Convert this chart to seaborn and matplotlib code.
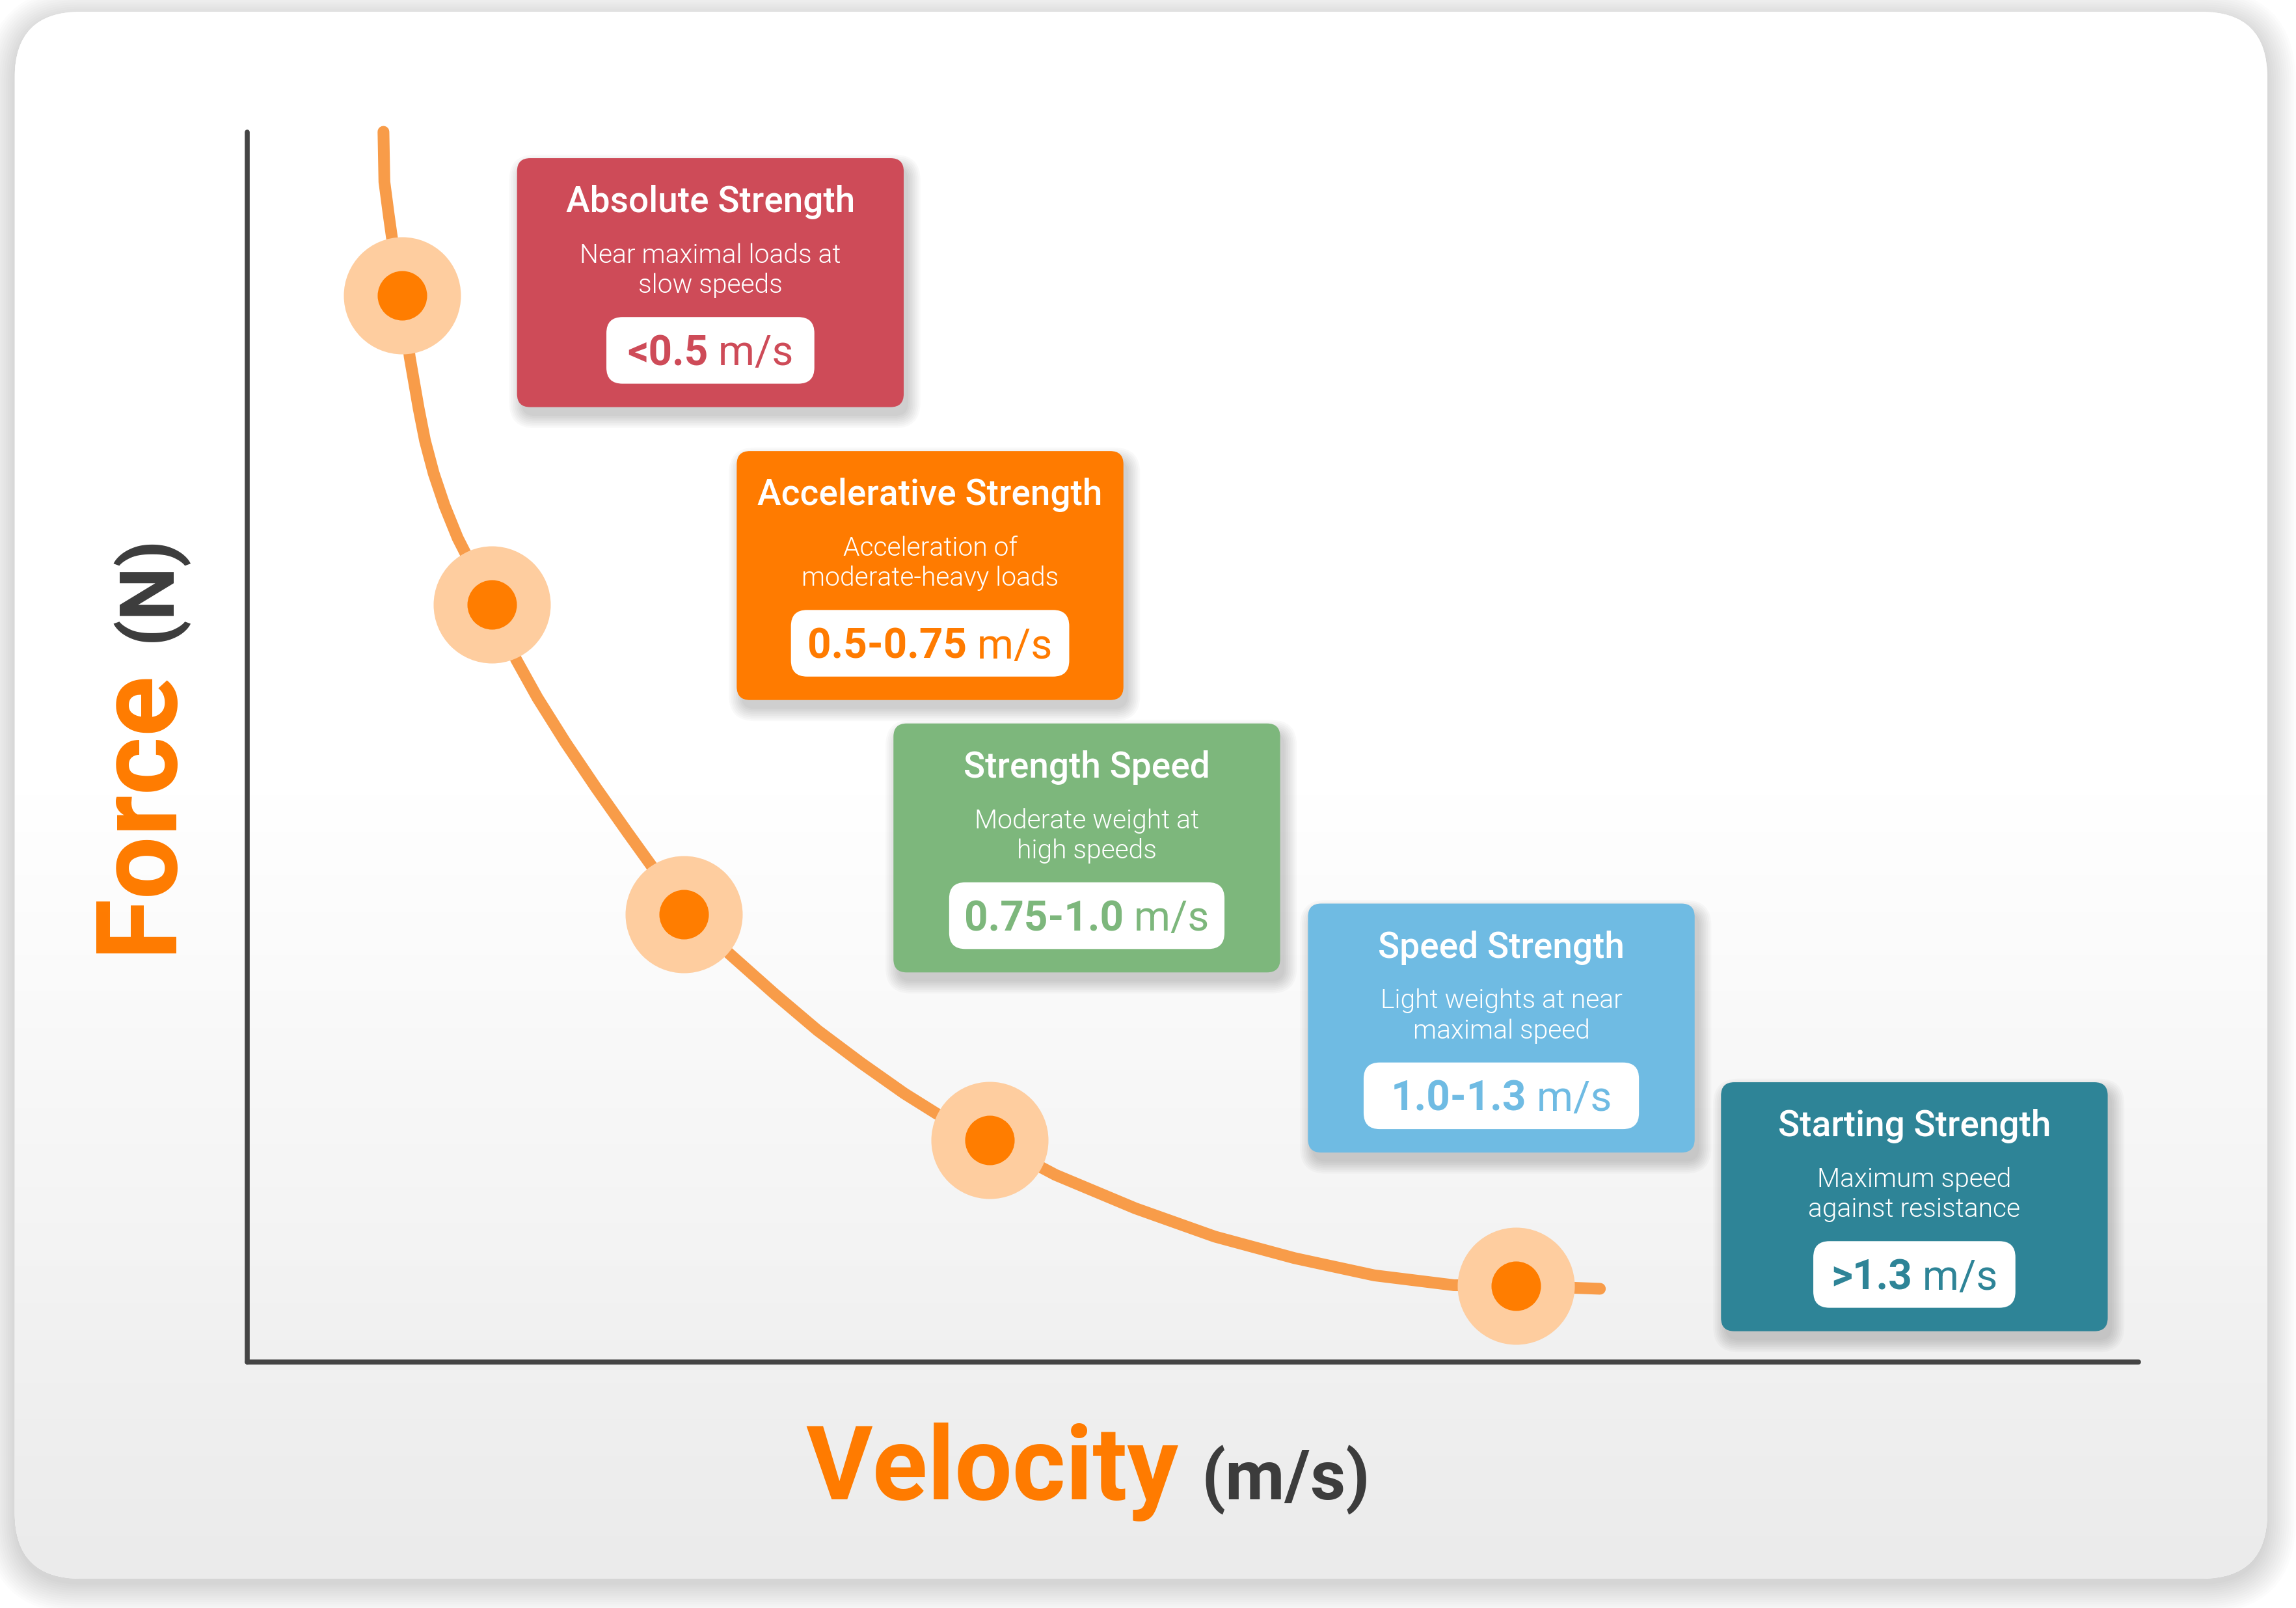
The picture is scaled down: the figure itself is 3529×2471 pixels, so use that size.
import numpy as np
import matplotlib
matplotlib.use("Agg")
import matplotlib.pyplot as plt
import seaborn as sns
from matplotlib.patches import FancyBboxPatch
from matplotlib.colors import LinearSegmentedColormap

# force-velocity curve (velocity in m/s, force in % of max)
velocity = [0.1150, 0.1158, 0.1194, 0.1221, 0.1309, 0.1372, 0.1448, 0.1502,
            0.1575, 0.1667, 0.1778, 0.2065, 0.2273, 0.2453, 0.2691, 0.2948,
            0.3214, 0.3419, 0.3690, 0.4065, 0.4457, 0.4824, 0.5191, 0.5557,
            0.5833, 0.6279, 0.6836, 0.7512, 0.8185, 0.8859, 0.9534, 1.0208,
            1.0731, 1.1443]
force = [100.0, 95.93, 93.30, 91.45, 86.71, 81.71, 77.51, 74.88,
         72.24, 69.61, 66.98, 61.57, 57.10, 53.99, 50.35, 46.69,
         43.06, 40.32, 36.37, 33.29, 29.94, 26.95, 24.31, 21.83,
         20.17, 18.04, 15.21, 12.49, 10.19, 8.44, 7.04, 6.24,
         6.20, 5.95]

# one marker per training zone
zone_velocity = [0.1309, 0.2065, 0.3690, 0.6279, 1.0731]
zone_force = [86.71, 61.57, 36.37, 18.04, 6.20]

zone_titles = ["Absolute Strength", "Accelerative Strength", "Strength Speed",
               "Speed Strength", "Starting Strength"]
zone_desc = [["Near maximal loads at", "slow speeds"],
             ["Acceleration of", "moderate-heavy loads"],
             ["Moderate weight at", "high speeds"],
             ["Light weights at near", "maximal speed"],
             ["Maximum speed", "against resistance"]]
zone_range = ["<0.5", "0.5-0.75", "0.75-1.0", "1.0-1.3", ">1.3"]
zone_colors = ["#CE4B58", "#FF7B00", "#7DB77C", "#6FBBE3", "#2E8497"]

ORANGE = "#FF7B00"
DARK = "#3C3C3C"

sns.set_style("white")
plt.rcParams["font.family"] = ["Roboto", "DejaVu Sans"]

fig = plt.figure(figsize=(35.30, 24.71), dpi=100)
W, H = 1568, 1098          # layout units (reference scaled down)
PX = 3530 / W              # pixels per layout unit

# ---- background card
bg = fig.add_axes([0, 0, 1, 1], zorder=0)
bg.set_xlim(0, W)
bg.set_ylim(H, 0)
bg.axis("off")

for i in range(14):
    p = 1.5 * i
    bg.add_patch(FancyBboxPatch((10, 12), 1538, 1070,
                                boxstyle=f"round,pad={p},rounding_size={45 + p}",
                                fc="black", ec="none", alpha=0.012, zorder=0))
card = FancyBboxPatch((10, 8), 1538, 1070, boxstyle="round,pad=0,rounding_size=45",
                      fc="white", ec="none", zorder=1)
bg.add_patch(card)
cmap = LinearSegmentedColormap.from_list("card", ["#ffffff", "#ffffff", "#ebebeb"])
grad = np.linspace(0, 1, 512).reshape(-1, 1)
im = bg.imshow(grad, extent=(10, 1548, 1078, 8), cmap=cmap, aspect="auto", zorder=2)
im.set_clip_path(card)

# ---- main chart
ax = fig.add_axes([169 / W, 1 - 930 / H, (1460 - 169) / W, (930 - 90) / H], zorder=2)
ax.patch.set_alpha(0)
ax.set_xlim(0, 1.6)
ax.set_ylim(0, 100)
for s in ["top", "right"]:
    ax.spines[s].set_visible(False)
for s in ["left", "bottom"]:
    ax.spines[s].set_color("#444444")
    ax.spines[s].set_linewidth(5.5)
    ax.spines[s].set_capstyle("round")
ax.set_xticks([])
ax.set_yticks([])

sns.lineplot(x=velocity, y=force, sort=False, color="#F89C49", lw=13,
             solid_capstyle="round", solid_joinstyle="round",
             ax=ax, clip_on=False, zorder=3)
sns.scatterplot(x=zone_velocity, y=zone_force, s=16800, color="#FECD9F",
                linewidth=0, ax=ax, clip_on=False, zorder=4)
sns.scatterplot(x=zone_velocity, y=zone_force, s=3000, color="#FF7D00",
                linewidth=0, ax=ax, clip_on=False, zorder=5)
ax.set_xlabel("")
ax.set_ylabel("")

# ---- overlay for zone cards and labels
ov = fig.add_axes([0, 0, 1, 1], zorder=3)
ov.set_xlim(0, W)
ov.set_ylim(H, 0)
ov.axis("off")
ov.patch.set_alpha(0)

box_left = [353, 503, 610, 893, 1175]
box_top = [108, 308, 494, 617, 739]
pill_w = [142, 190, 188, 188, 138]
BW, BH = 264, 170

renderer = fig.canvas.get_renderer()

for i in range(5):
    x0, y0, c = box_left[i], box_top[i], zone_colors[i]
    cx = x0 + BW / 2
    for k in range(8):
        p = 1.2 * k
        ov.add_patch(FancyBboxPatch((x0 + 3, y0 + 6), BW, BH,
                                    boxstyle=f"round,pad={p},rounding_size={9 + p}",
                                    fc="black", ec="none", alpha=0.025, zorder=1))
    ov.add_patch(FancyBboxPatch((x0, y0), BW, BH, boxstyle="round,pad=0,rounding_size=9",
                                fc=c, ec="none", zorder=2))
    ov.text(cx, y0 + 37, zone_titles[i], ha="center", va="baseline", fontsize=39.6,
            fontweight=500, color="white", zorder=3)
    ov.text(cx, y0 + 71.5, zone_desc[i][0], ha="center", va="baseline", fontsize=29.3,
            fontweight=300, color="white", zorder=3)
    ov.text(cx, y0 + 92, zone_desc[i][1], ha="center", va="baseline", fontsize=29.3,
            fontweight=300, color="white", zorder=3)
    pw = pill_w[i]
    ov.add_patch(FancyBboxPatch((cx - pw / 2, y0 + 108.5), pw, 45.5,
                                boxstyle="round,pad=0,rounding_size=11",
                                fc="white", ec="none", zorder=3))
    t1 = ov.text(0, y0 + 141.5, zone_range[i], ha="left", va="baseline", fontsize=46,
                 fontweight="bold", color=c, zorder=4)
    t2 = ov.text(0, y0 + 141.5, " m/s", ha="left", va="baseline", fontsize=46,
                 fontweight="normal", color=c, zorder=4)
    w1 = t1.get_window_extent(renderer).width / PX
    w2 = t2.get_window_extent(renderer).width / PX
    start = cx - (w1 + w2) / 2
    t1.set_x(start)
    t2.set_x(start + w1)

# axis titles
ov.text(116, 651, "Force", rotation=90, rotation_mode="anchor", ha="left", va="baseline",
        fontsize=124, fontweight="bold", color=ORANGE)
ov.text(116, 438, "(N)", rotation=90, rotation_mode="anchor", ha="left", va="baseline",
        fontsize=84, fontweight="bold", color=DARK)
ov.text(550, 1024, "Velocity", ha="left", va="baseline", fontsize=113,
        fontweight="bold", color=ORANGE)
ov.text(820, 1024, "(m/s)", ha="left", va="baseline", fontsize=76,
        fontweight="bold", color=DARK)

fig.savefig("out.png", dpi=100)
